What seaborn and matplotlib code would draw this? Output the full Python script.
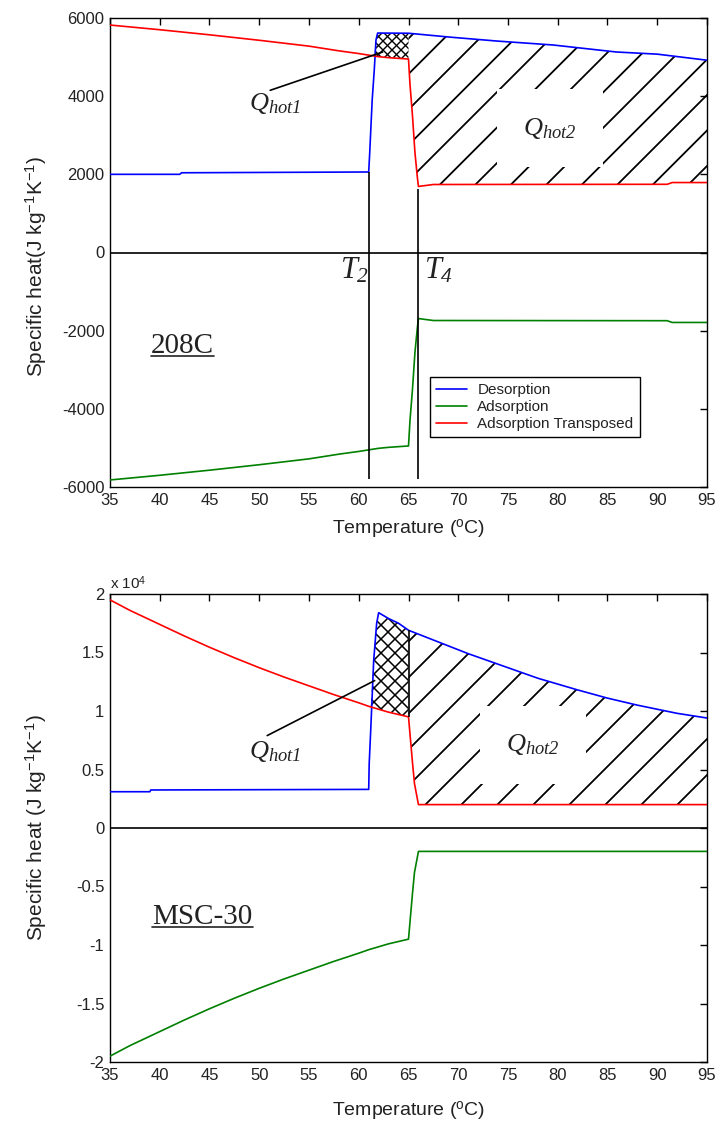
import numpy as np
import pandas as pd
import matplotlib
matplotlib.use("Agg")
import matplotlib.pyplot as plt
import seaborn as sns
from matplotlib.collections import LineCollection
from matplotlib.lines import Line2D
from matplotlib.ticker import FuncFormatter

# ---------------- data: 208C (J kg^-1 K^-1) ----------------
t_des_208 = [35, 42, 42.2, 61.0, 61.1, 61.35, 61.56, 61.73, 61.9,
             65, 69.2, 73.9, 79.5, 85.9, 90, 95]
cp_des_208 = [2000, 2000, 2040, 2060, 2540, 3900, 4670, 5435, 5615,
              5610, 5510, 5410, 5310, 5130, 5075, 4920]
t_ads_208 = [35, 40, 45, 50, 55, 58, 60, 61, 62, 63, 65.0,
             65.15, 65.4, 65.65, 65.9, 66.0, 67.5, 91, 91.5, 95]
cp_ads_208 = [-5820, -5700, -5570, -5430, -5280, -5160, -5090, -5050, -5010, -4985, -4950,
              -4300, -3500, -2550, -1900, -1690, -1740, -1745, -1790, -1790]

# ---------------- data: MSC-30 (J kg^-1 K^-1) ----------------
t_des_msc = [35, 39, 39.1, 61.0, 61.05, 61.2, 61.5, 61.8, 62, 63, 64, 65,
             68, 71, 75, 78, 82, 85, 88, 92, 95]
cp_des_msc = [3100, 3100, 3250, 3300, 5500, 8300, 14300, 17500, 18400, 17900, 17500, 16900,
              15900, 14900, 13700, 12800, 11800, 11100, 10500, 9800, 9400]
t_ads_msc = [35, 37, 40, 42.5, 45, 47.5, 50, 52.5, 55, 57.5, 60, 61, 63, 65,
             65.4, 65.6, 66, 95]
cp_ads_msc = [-19500, -18600, -17400, -16400, -15450, -14550, -13700, -12900, -12150, -11400,
              -10700, -10400, -9900, -9500, -5600, -3800, -2000, -2000]

series_names = ["Desorption", "Adsorption", "Adsorption Transposed"]
series_colors = ["#0000ff", "#008000", "#ff0000"]
x_ticks = [35, 40, 45, 50, 55, 60, 65, 70, 75, 80, 85, 90, 95]
y_ticks_208 = [-6000, -4000, -2000, 0, 2000, 4000, 6000]
y_ticks_msc = [-20000, -15000, -10000, -5000, 0, 5000, 10000, 15000, 20000]
T2, T4 = 61, 66
q1_span = (61, 65)
q2_span = (65, 95)

sns.set_theme(style="white")
plt.rcParams.update({
    "font.family": ["Liberation Sans", "DejaVu Sans"],
    "axes.unicode_minus": False,
    "mathtext.fontset": "custom",
    "mathtext.rm": "Liberation Serif:italic",
    "mathtext.it": "Liberation Serif:italic",
    "mathtext.sf": "Liberation Sans",
    "mathtext.bf": "Liberation Sans:bold",
    "axes.edgecolor": "black",
    "axes.linewidth": 1.0,
    "xtick.color": "black",
    "ytick.color": "black",
    "xtick.labelcolor": "#222222",
    "ytick.labelcolor": "#222222",
})

FW, FH, DPI = 720, 1123, 100
fig = plt.figure(figsize=(FW / DPI, FH / DPI), dpi=DPI)
ax1 = fig.add_axes([110 / FW, 1 - 487 / FH, 597 / FW, 469 / FH])
ax2 = fig.add_axes([110 / FW, 1 - 1062 / FH, 597 / FW, 468 / FH])


def curves_frame(t_des, cp_des, t_ads, cp_ads):
    t_ads = np.asarray(t_ads, float)
    cp_ads = np.asarray(cp_ads, float)
    return pd.concat([
        pd.DataFrame({"T": t_des, "cp": cp_des, "series": series_names[0]}),
        pd.DataFrame({"T": t_ads, "cp": cp_ads, "series": series_names[1]}),
        pd.DataFrame({"T": t_ads, "cp": -cp_ads, "series": series_names[2]}),
    ], ignore_index=True)


def region_path(ax, span, t_des, cp_des, t_ads, cp_ads):
    lo, hi = span
    grid = np.union1d(t_des, t_ads)
    grid = np.union1d(grid[(grid >= lo) & (grid <= hi)], [lo, hi])
    lower = -np.interp(grid, t_ads, cp_ads)
    upper = np.maximum(np.interp(grid, t_des, cp_des), lower)
    poly = ax.fill_between(grid, lower, upper, facecolor="none", edgecolor="none")
    return poly.get_paths()[0]


def hatch(ax, path, spacing, phase, directions, lw=1.0):
    bb = ax.get_position()
    W = bb.width * FW
    H = bb.height * FH
    segs = []
    for d in directions:
        for c in np.arange(phase - 2 * H, W + H, spacing):
            if d == "/":
                segs.append([(c / W, 0), ((c + H) / W, 1)])
            else:
                segs.append([(c / W, 1), ((c + H) / W, 0)])
    lc = LineCollection(segs, colors="black", linewidths=lw, transform=ax.transAxes, zorder=2.5)
    lc.set_clip_path(path, ax.transData)
    ax.add_collection(lc, autolim=False)


def style_axes(ax, yticks):
    ax.set_xlim(35, 95)
    ax.set_ylim(yticks[0], yticks[-1])
    ax.set_xticks(x_ticks)
    ax.set_yticks(yticks)
    ax.tick_params(direction="in", top=True, right=True, length=5, width=1,
                   labelsize=12, pad=4)
    ax.axhline(0, color="black", lw=1.2, zorder=3)
    for s in ax.spines.values():
        s.set_visible(True)
        s.set_color("black")
    ax.set_xlabel(r"Temperature ($^{\mathsf{o}}$C)", fontsize=14, color="#222222")


panels = [
    (ax1, t_des_208, cp_des_208, t_ads_208, cp_ads_208, y_ticks_208),
    (ax2, t_des_msc, cp_des_msc, t_ads_msc, cp_ads_msc, y_ticks_msc),
]
for ax, td, cd, ta, ca, yt in panels:
    df = curves_frame(td, cd, ta, ca)
    sns.lineplot(data=df, x="T", y="cp", hue="series", hue_order=series_names,
                 palette=series_colors, estimator=None, sort=False, linewidth=1.2,
                 legend=False, ax=ax, zorder=3)
    style_axes(ax, yt)

# ---- 208C panel ----
ax1.set_ylabel(r"Specific heat(J kg$^{\mathsf{-1}}$K$^{\mathsf{-1}}$)", fontsize=15, color="#222222")
ax1.yaxis.set_label_coords(-0.102, 0.47)
ax1.xaxis.set_label_coords(0.5, -0.066)

p1 = region_path(ax1, q1_span, t_des_208, cp_des_208, t_ads_208, cp_ads_208)
hatch(ax1, p1, 9, 0, ["/", "\\"])
p2 = region_path(ax1, q2_span, t_des_208, cp_des_208, t_ads_208, cp_ads_208)
hatch(ax1, p2, 35.5, 7, ["/"], lw=1.3)

ax1.vlines(T2, -5800, np.interp(T2, t_des_208, cp_des_208), color="black", lw=1.2, zorder=3)
ax1.vlines(T4, -5800, -np.interp(T4, t_ads_208, cp_ads_208) - 60, color="black", lw=1.2, zorder=3)
ax1.plot([51.1, 62.4], [4150, 5130], color="black", lw=1.2, zorder=3)

ax1.text(51.6, 3820, r"$Q_{hot1}$", fontsize=19, ha="center", va="center", color="#222222")
ax1.text(79.2, 3180, r"$Q_{hot2}$", fontsize=19, ha="center", va="center", color="#222222",
         zorder=4, bbox=dict(boxstyle="square,pad=1.0", fc="white", ec="none"))
ax1.text(59.6, -460, r"$T_2$", fontsize=22, ha="center", va="center", color="#222222")
ax1.text(68.0, -460, r"$T_4$", fontsize=22, ha="center", va="center", color="#222222")
name1 = ax1.text(42.3, -2400, "208C", fontsize=21, family="Liberation Serif",
                 ha="center", va="center", color="#222222")

handles = [Line2D([], [], color=c, lw=1.2) for c in series_colors]
leg = ax1.legend(handles, series_names, loc="upper left", bbox_to_anchor=(0.536, 0.235),
                 fontsize=11, frameon=True, fancybox=False, edgecolor="black",
                 framealpha=1, borderaxespad=0, handlelength=2.0, handletextpad=0.7,
                 labelspacing=0.2, borderpad=0.4)
leg.get_frame().set_linewidth(1.0)
leg.set_zorder(5)
for txt in leg.get_texts():
    txt.set_color("#222222")

# ---- MSC-30 panel ----
ax2.set_ylabel(r"Specific heat (J kg$^{\mathsf{-1}}$K$^{\mathsf{-1}}$)", fontsize=15, color="#222222")
ax2.yaxis.set_label_coords(-0.102, 0.5)
ax2.xaxis.set_label_coords(0.5, -0.08)
ax2.yaxis.set_major_formatter(FuncFormatter(lambda v, p: f"{v / 1e4:g}"))
ax2.text(0.0, 1.005, r"x 10$^{\mathsf{4}}$", transform=ax2.transAxes, fontsize=11,
         ha="left", va="bottom", color="#222222")

p3 = region_path(ax2, q1_span, t_des_msc, cp_des_msc, t_ads_msc, cp_ads_msc)
hatch(ax2, p3, 14, 0, ["/", "\\"], lw=1.1)
p4 = region_path(ax2, q2_span, t_des_msc, cp_des_msc, t_ads_msc, cp_ads_msc)
hatch(ax2, p4, 36, 22, ["/"], lw=1.3)
ax2.vlines(q1_span[1], -np.interp(q1_span[1], t_ads_msc, cp_ads_msc),
           np.interp(q1_span[1], t_des_msc, cp_des_msc), color="black", lw=1.2, zorder=3)
ax2.plot([50.8, 61.6], [7900, 12600], color="black", lw=1.2, zorder=3)

ax2.text(51.6, 6500, r"$Q_{hot1}$", fontsize=19, ha="center", va="center", color="#222222")
ax2.text(77.5, 7100, r"$Q_{hot2}$", fontsize=19, ha="center", va="center", color="#222222",
         zorder=4, bbox=dict(boxstyle="square,pad=1.0", fc="white", ec="none"))
name2 = ax2.text(44.3, -7600, "MSC-30", fontsize=21, family="Liberation Serif",
                 ha="center", va="center", color="#222222")

# underline the sample names
fig.canvas.draw()
renderer = fig.canvas.get_renderer()
for t in (name1, name2):
    bb = t.get_window_extent(renderer)
    y = (bb.y0 + 3) / FH
    fig.add_artist(Line2D([bb.x0 / FW, bb.x1 / FW], [y, y], transform=fig.transFigure,
                          color="#222222", lw=1.2))

fig.savefig("out.png", dpi=DPI, facecolor="white")
